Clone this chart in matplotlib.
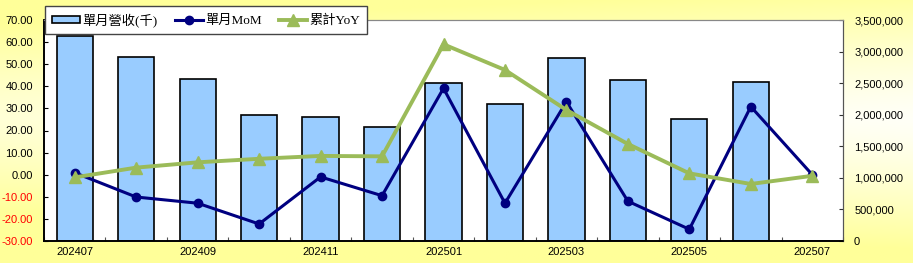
import matplotlib
matplotlib.use("Agg")
import matplotlib.pyplot as plt
import numpy as np
from matplotlib.ticker import FuncFormatter, FixedLocator

months = ["202407", "202408", "202409", "202410", "202411", "202412", "202501",
          "202502", "202503", "202504", "202505", "202506", "202507"]
revenue = [3247000, 2919000, 2561000, 1990000, 1969000, 1800000, 2497000,
           2175000, 2893000, 2550000, 1932000, 2523000, 0]
mom = [0.9, -10.1, -12.9, -22.3, -1.0, -9.5, 39.1, -12.9, 33.0, -12.0, -24.7, 30.8, 0.0]
yoy = [-1.2, 3.2, 5.6, 7.2, 8.5, 8.3, 59.0, 47.4, 29.3, 13.9, 0.6, -4.2, -0.5]

W, H = 913, 263
fig = plt.figure(figsize=(W / 100, H / 100), dpi=100)

# yellow gradient background
bg = fig.add_axes([0, 0, 1, 1], zorder=-10)
yy, xx = np.mgrid[0:1:200j, 0:1:400j]
f = np.clip(np.abs(yy - 0.45) / 0.5, 0, 1) ** 1.3
f = np.clip(f + (1 - xx) * 0.35, 0, 1)
img = np.zeros((200, 400, 3))
img[..., 0] = 1
img[..., 1] = 1
img[..., 2] = 0.97 - 0.37 * f
bg.imshow(img, aspect="auto", extent=[0, 1, 0, 1], origin="upper")
bg.axis("off")

left, right, top, bottom = 44 / W, 843 / W, 1 - 20 / H, 1 - 241 / H
ax = fig.add_axes([left, bottom, right - left, top - bottom])
ax.set_facecolor("white")
ax2 = ax.twinx()

x = np.arange(len(months))
ax.bar(x, revenue, width=0.59, color="#99CCFF", edgecolor="black", linewidth=1.2,
       label="單月營收(千)")
ax.set_ylim(0, 3500000)
ax.set_xlim(-0.5, len(months) - 0.5)
ax.yaxis.tick_right()
ax.yaxis.set_label_position("right")
ax.yaxis.set_major_locator(FixedLocator(np.arange(0, 3500001, 500000)))
ax.yaxis.set_major_formatter(FuncFormatter(lambda v, p: f"{int(v):,}"))
ax.tick_params(axis="y", direction="in", length=3, labelsize=8, pad=8,
               colors="#333333", labelcolor="black")

ax2.plot(x, mom, color="#000080", lw=2.2, marker="o", ms=6, label="單月MoM")
ax2.plot(x, yoy, color="#9BBB59", lw=2.8, marker="^", ms=8, label="累計YoY")
ax2.set_ylim(-30, 70)
ax2.yaxis.tick_left()
ax2.yaxis.set_label_position("left")
ax2.set_yticks(np.arange(-30, 71, 10))
ax2.set_yticklabels([f"{v:.2f}" for v in np.arange(-30, 71, 10)])
ax2.tick_params(axis="y", direction="in", length=3, labelsize=8, pad=8)
for lab, v in zip(ax2.get_yticklabels(), np.arange(-30, 71, 10)):
    lab.set_color("red" if v < 0 else "black")

# x axis: ticks at boundaries, labels every other month
ax.set_xticks(np.arange(-0.5, len(months), 1.0))
ax.set_xticklabels([])
ax.set_xticks(x[::2], minor=True)
ax.set_xticklabels([months[i] for i in x[::2]], minor=True)
ax.tick_params(axis="x", which="major", direction="in", length=3, color="#555555")
ax.tick_params(axis="x", which="minor", length=0, labelsize=8, pad=4)

for a in (ax, ax2):
    a.spines["top"].set_color("#888888")
    a.spines["right"].set_color("#555555")
    a.spines["left"].set_color("black")
    a.spines["bottom"].set_color("black")
    a.spines["left"].set_linewidth(1.2)
    a.spines["bottom"].set_linewidth(1.2)

for a in (ax, ax2):
    for lab in a.get_yticklabels() + a.get_xticklabels(minor=True):
        lab.set_fontfamily(["Liberation Sans", "DejaVu Sans"])

h1, l1 = ax.get_legend_handles_labels()
h2, l2 = ax2.get_legend_handles_labels()
leg = ax2.legend(h1 + h2, l1 + l2, ncol=3, loc="upper left",
                 bbox_to_anchor=(45 / W, 1 - 6 / H), bbox_transform=fig.transFigure,
                 fancybox=False, framealpha=1, edgecolor="#444444",
                 prop={"family": ["Liberation Serif", "Noto Sans CJK TC"], "size": 9.5},
                 handlelength=2.1, handleheight=0.5, columnspacing=1.3,
                 handletextpad=0.2, borderpad=0.55, borderaxespad=0)
leg.get_frame().set_linewidth(1.0)

fig.savefig("out.png", dpi=100)
